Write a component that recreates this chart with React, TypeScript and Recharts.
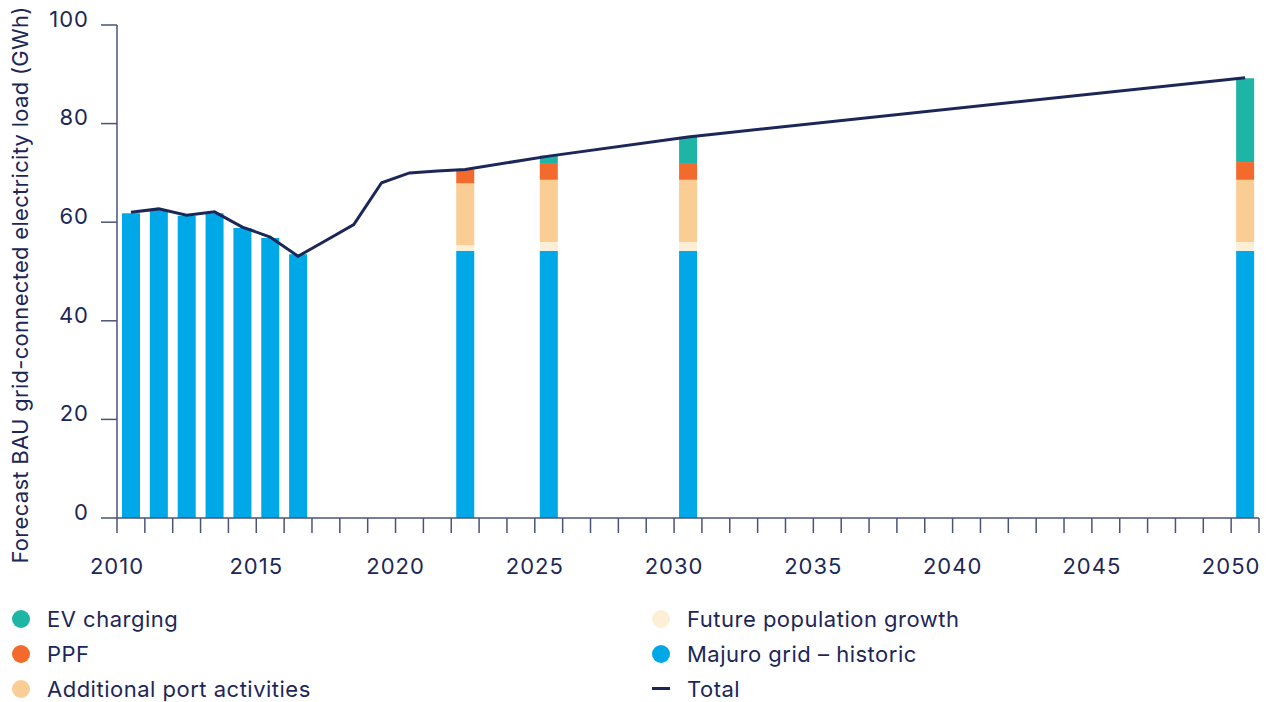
import { Bar, ComposedChart, Line, XAxis, YAxis } from "recharts";

const navy = "#1d2757";
const axisGrey = "#4b5378";
const font = "Inter, 'Noto Sans', sans-serif";

const chartWidth = 1273;
const chartHeight = 600;
const yAxisWidth = 117;
const rightMargin = 14;

const firstYear = 2010;
const lastYear = 2050;
const years = Array.from({ length: lastYear - firstYear + 1 }, (_, i) => firstYear + i);

// stacked bars, bottom to top
const barYears = [2010, 2011, 2012, 2013, 2014, 2015, 2016, 2022, 2025, 2030, 2050];
const majuroGrid = [61.8, 62.5, 61.3, 61.8, 58.8, 56.8, 53.5, 54.2, 54.2, 54.2, 54.2];
const populationGrowth = [null, null, null, null, null, null, null, 1.2, 1.8, 1.8, 1.8];
const portActivities = [null, null, null, null, null, null, null, 12.5, 12.6, 12.6, 12.6];
const ppf = [null, null, null, null, null, null, null, 2.8, 3.4, 3.4, 3.6];
const evCharging = [null, null, null, null, null, null, null, null, 1.5, 5.3, 17.0];

const totalYears = [2010, 2011, 2012, 2013, 2014, 2015, 2016, 2017, 2018, 2019, 2020, 2021, 2022, 2025, 2030, 2050];
const totalLoad = [62.0, 62.7, 61.4, 62.1, 59.0, 57.0, 53.1, 56.3, 59.5, 68.0, 70.0, 70.4, 70.7, 73.4, 77.3, 89.3];

const yTicks = [0, 20, 40, 60, 80, 100];

const series = [
  { key: "majuro", name: "Majuro grid – historic", color: "#00a8e8", values: majuroGrid },
  { key: "population", name: "Future population growth", color: "#fdefd6", values: populationGrowth },
  { key: "port", name: "Additional port activities", color: "#f9cd93", values: portActivities },
  { key: "ppf", name: "PPF", color: "#f26b2d", values: ppf },
  { key: "ev", name: "EV charging", color: "#1fb5a6", values: evCharging },
];

const legendLeft = ["ev", "ppf", "port"];
const legendRight = ["population", "majuro", "total"];

const data = years.map((year) => {
  const row: Record<string, number | null> = { year };
  const b = barYears.indexOf(year);
  series.forEach((s) => {
    row[s.key] = b >= 0 ? s.values[b] : null;
  });
  const t = totalYears.indexOf(year);
  row.total = t >= 0 ? totalLoad[t] : null;
  return row;
});

const halfBand = (chartWidth - yAxisWidth - rightMargin) / years.length / 2;

const YearTick = (props: any) => {
  const { x, y, payload } = props;
  const year = Number(payload.value);
  const left = x - halfBand;
  return (
    <g>
      <line x1={left} y1={y} x2={left} y2={y + 15} stroke={axisGrey} strokeWidth={1.5} />
      {year === lastYear && (
        <line x1={x + halfBand} y1={y} x2={x + halfBand} y2={y + 15} stroke={axisGrey} strokeWidth={1.5} />
      )}
      {year % 5 === 0 && (
        <text x={left} y={y + 56} textAnchor="middle" fill={navy} fontSize={22} letterSpacing={1} fontFamily={font}>
          {year}
        </text>
      )}
    </g>
  );
};

const LegendMark = ({ id }: { id: string }) => {
  if (id === "total") {
    return <span style={{ display: "inline-block", width: 19, height: 3, background: navy }} />;
  }
  const s = series.find((item) => item.key === id)!;
  return <span style={{ display: "inline-block", width: 18, height: 18, borderRadius: 9, background: s.color }} />;
};

const legendName = (id: string) => (id === "total" ? "Total" : series.find((s) => s.key === id)!.name);

const LegendColumn = ({ ids, left }: { ids: string[]; left: number }) => (
  <div style={{ position: "absolute", left, top: 0 }}>
    {ids.map((id) => (
      <div key={id} style={{ height: 35, display: "flex", alignItems: "center" }}>
        <span style={{ width: 18, display: "flex", justifyContent: "center" }}>
          <LegendMark id={id} />
        </span>
        <span
          style={{
            marginLeft: 17,
            fontSize: 22,
            letterSpacing: 0.5,
            color: navy,
            fontFamily: font,
            whiteSpace: "nowrap",
          }}
        >
          {legendName(id)}
        </span>
      </div>
    ))}
  </div>
);

export default function App() {
  return (
    <div style={{ position: "absolute", left: 0, top: 0, width: 1273, height: 702, background: "#fff" }}>
      <ComposedChart
        width={chartWidth}
        height={chartHeight}
        data={data}
        margin={{ top: 25, right: rightMargin, left: 0, bottom: 0 }}
      >
        <XAxis
          dataKey="year"
          type="category"
          interval={0}
          height={82}
          tickSize={0}
          tickMargin={0}
          tick={<YearTick />}
          axisLine={{ stroke: axisGrey, strokeWidth: 1.5 }}
          tickLine={false}
        />
        <YAxis
          width={yAxisWidth}
          domain={[0, 100]}
          ticks={yTicks}
          tickSize={16}
          tickMargin={12}
          axisLine={{ stroke: axisGrey, strokeWidth: 1.5 }}
          tickLine={{ stroke: axisGrey, strokeWidth: 1.5 }}
          tick={{ fill: navy, fontSize: 22, fontFamily: font, letterSpacing: 1, dy: -6 }}
          label={{
            content: () => (
              <text
                x={20}
                y={285}
                transform="rotate(-90 20 285)"
                textAnchor="middle"
                dominantBaseline="central"
                fill={navy}
                fontSize={22}
                letterSpacing={0.3}
                fontFamily={font}
              >
                Forecast BAU grid-connected electricity load (GWh)
              </text>
            ),
          }}
        />
        {series.map((s) => (
          <Bar key={s.key} dataKey={s.key} name={s.name} stackId="load" fill={s.color} barSize={18} isAnimationActive={false} />
        ))}
        <Line
          dataKey="total"
          name="Total"
          type="linear"
          stroke={navy}
          strokeWidth={3}
          dot={false}
          activeDot={false}
          connectNulls
          isAnimationActive={false}
        />
      </ComposedChart>
      <div style={{ position: "absolute", left: 0, top: 601, width: 1273 }}>
        <LegendColumn ids={legendLeft} left={12} />
        <LegendColumn ids={legendRight} left={652} />
      </div>
    </div>
  );
}
